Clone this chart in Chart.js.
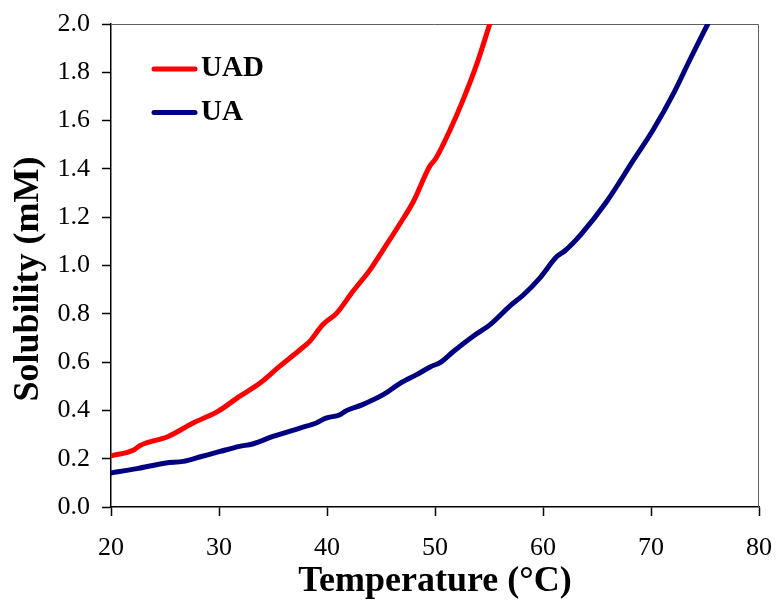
<!DOCTYPE html>
<html>
<head>
<meta charset="utf-8">
<script src="https://cdn.jsdelivr.net/npm/chart.js@4/dist/chart.umd.min.js"></script>
<style>
  html, body { margin: 0; padding: 0; background: #fff; }
  #wrap { width: 776px; height: 603px; }
</style>
</head>
<body>
<div id="wrap"><canvas id="chart" width="776" height="603"></canvas></div>
<script>
// temperature (°C) and solubility (mM)
var tempUAD = [20, 22.1, 22.7, 25.3, 27.6, 29.9, 31.9, 33.8, 35.6, 37.5, 38.4, 39.6, 40.9, 42.4, 44.0, 45.2, 46.8, 48.0, 49.5, 50.1, 51.4, 52.6, 53.9, 55.1];
var solUAD = [0.212, 0.236, 0.255, 0.292, 0.348, 0.396, 0.458, 0.513, 0.582, 0.651, 0.686, 0.755, 0.803, 0.893, 0.983, 1.065, 1.176, 1.265, 1.41, 1.445, 1.562, 1.686, 1.838, 2.004];

var tempUA = [20, 22.4, 25.1, 26.7, 28.2, 30.1, 31.9, 33.1, 35.0, 37.5, 39.0, 39.9, 41.2, 41.8, 43.3, 45.2, 46.8, 48.3, 49.6, 50.5, 51.7, 53.5, 55.1, 56.9, 58.2, 59.7, 61.3, 62.0, 63.5, 65.9, 68.4, 70.2, 72.1, 73.6, 75.3];
var solUA = [0.141, 0.159, 0.182, 0.189, 0.207, 0.230, 0.251, 0.261, 0.292, 0.327, 0.348, 0.368, 0.382, 0.399, 0.424, 0.465, 0.513, 0.548, 0.581, 0.599, 0.644, 0.706, 0.755, 0.831, 0.879, 0.948, 1.038, 1.06, 1.128, 1.265, 1.438, 1.562, 1.714, 1.852, 2.004];

var seriesNames = ["UAD", "UA"];
var seriesColors = ["#ff0000", "#000080"];
var yTitle = "Solubility (mM)";
var xTitle = "Temperature (°C)";

function toPoints(xs, ys) {
  return xs.map(function(x, i) { return { x: x, y: ys[i] }; });
}

var tickFont = { family: "'Liberation Serif', serif", size: 26 };
var titleFont = { family: "'Liberation Serif', serif", size: 36, weight: "bold" };

// grey frame on top and right of the plot
var frame = {
  id: "frame",
  beforeDatasetsDraw: function(chart) {
    var a = chart.chartArea, ctx = chart.ctx;
    ctx.save();
    ctx.strokeStyle = "#606060";
    ctx.lineWidth = 1;
    ctx.beginPath();
    ctx.moveTo(a.left, a.top + 0.5);
    ctx.lineTo(a.right - 0.5, a.top + 0.5);
    ctx.lineTo(a.right - 0.5, a.bottom);
    ctx.stroke();
    ctx.restore();
  }
};

// legend inside plot (top left) and the y title, drawn by hand
var extras = {
  id: "extras",
  afterDatasetsDraw: function(chart) {
    var a = chart.chartArea, ctx = chart.ctx;
    ctx.save();
    chart.data.datasets.forEach(function(ds, i) {
      var y = a.top + 45 + i * 43.5;
      ctx.strokeStyle = ds.borderColor;
      ctx.lineWidth = 5;
      ctx.lineCap = "round";
      ctx.beginPath();
      ctx.moveTo(a.left + 43, y);
      ctx.lineTo(a.left + 84, y);
      ctx.stroke();
      ctx.fillStyle = "#000";
      ctx.font = "bold 29px 'Liberation Serif', serif";
      ctx.textBaseline = "middle";
      ctx.textAlign = "left";
      ctx.fillText(ds.label, a.left + 90, y);
    });

    ctx.translate(29, 279);
    ctx.rotate(-Math.PI / 2);
    ctx.font = "bold 36px 'Liberation Serif', serif";
    ctx.textAlign = "center";
    ctx.textBaseline = "middle";
    ctx.fillStyle = "#000";
    ctx.fillText(yTitle, 0, 0);
    ctx.restore();
  }
};

var ctx = document.getElementById("chart").getContext("2d");
var myChart = new Chart(ctx, {
  type: "line",
  data: {
    datasets: [
      { label: seriesNames[0], data: toPoints(tempUAD, solUAD), borderColor: seriesColors[0] },
      { label: seriesNames[1], data: toPoints(tempUA, solUA), borderColor: seriesColors[1] }
    ]
  },
  options: {
    responsive: false,
    animation: false,
    layout: { padding: { top: 24, right: 17, left: 0, bottom: 0 } },
    elements: {
      point: { radius: 0 },
      line: { borderWidth: 5, tension: 0.3, cubicInterpolationMode: "monotone", fill: false, borderCapStyle: "round" }
    },
    datasets: { line: { clip: 0 } },
    plugins: {
      legend: { display: false },
      tooltip: { enabled: false }
    },
    scales: {
      x: {
        type: "linear",
        min: 20,
        max: 80,
        afterFit: function(scale) {
          scale.height = 96;
          scale.paddingLeft = 0;
          scale.paddingRight = 0;
        },
        ticks: { stepSize: 10, color: "#000", font: tickFont, padding: 17, maxRotation: 0 },
        grid: { drawOnChartArea: false, drawTicks: true, tickLength: 9, color: "#000", tickWidth: 1.5 },
        border: { display: true, color: "#000", width: 1.5 },
        title: { display: true, text: xTitle, color: "#000", font: titleFont, padding: 0 }
      },
      y: {
        type: "linear",
        min: 0,
        max: 2,
        afterFit: function(scale) {
          scale.width = 111;
          scale.paddingTop = 0;
          scale.paddingBottom = 0;
        },
        ticks: {
          stepSize: 0.2,
          color: "#000",
          font: tickFont,
          padding: 12,
          callback: function(v) { return v.toFixed(1); }
        },
        grid: { drawOnChartArea: false, drawTicks: true, tickLength: 9, color: "#000", tickWidth: 1.5 },
        border: { display: true, color: "#000", width: 1.5 }
      }
    }
  },
  plugins: [frame, extras]
});
</script>
</body>
</html>
